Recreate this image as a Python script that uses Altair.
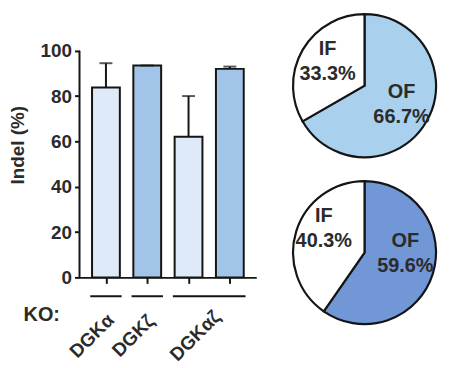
import altair as alt
import pandas as pd

# ---- data ----
bar_groups = ["DGKα", "DGKζ", "DGKαζ", "DGKαζ"]
bar_locus = ["α", "ζ", "α", "ζ"]
bar_mean = [83.8, 93.5, 62.0, 92.0]
bar_err = [10.7, 0.0, 18.0, 1.0]

group_names = ["DGKα", "DGKζ", "DGKαζ"]
y_ticks = [0, 20, 40, 60, 80, 100]

pie1_cat = ["OF", "IF"]
pie1_val = [66.7, 33.3]
pie2_cat = ["OF", "IF"]
pie2_val = [59.6, 40.3]

# ---- styling ----
FONT = "Liberation Sans"
TXT = "#2b2b2b"
LINE = "#151515"
W, H = 178, 267
LIGHT, DARK = "#deeaf7", "#a1c4e8"
PIE1_OF, PIE2_OF = "#a9d1ee", "#7197d6"

pos = list(range(1, len(bar_mean) + 1))
bars_df = pd.DataFrame({
    "pos": pos,
    "group": bar_groups,
    "locus": bar_locus,
    "mean": bar_mean,
    "top": [m + e for m, e in zip(bar_mean, bar_err)],
})

grp_rows = []
for g in group_names:
    members = [p for p, gg in zip(pos, bar_groups) if gg == g]
    grp_rows.append({"group": g, "start": min(members) - 0.38,
                     "end": max(members) + 0.38,
                     "center": sum(members) / len(members)})
grp_df = pd.DataFrame(grp_rows)

xscale = alt.Scale(domain=[0.48, 4.52], nice=False, zero=False)
yscale = alt.Scale(domain=[0, 117], nice=False)

x_enc = alt.X("pos:Q", scale=xscale,
              axis=alt.Axis(values=pos, labels=False, ticks=True, tickSize=6,
                            tickWidth=2, tickColor=LINE, domainWidth=2,
                            domainColor=LINE, grid=False, title=None))
y_enc = alt.Y("mean:Q", scale=yscale,
              axis=alt.Axis(values=y_ticks, domain=False, grid=False,
                            tickSize=5, tickWidth=2, tickColor=LINE,
                            labelFont=FONT, labelFontSize=19,
                            labelFontWeight="bold", labelColor=TXT,
                            labelPadding=3,
                            title="Indel (%)", titleFont=FONT,
                            titleFontSize=19, titleFontWeight="bold",
                            titleColor=TXT, titlePadding=13))

base = alt.Chart(bars_df)
bars = base.mark_bar(size=28, stroke=LINE, strokeWidth=2).encode(
    x=x_enc, y=y_enc,
    color=alt.Color("locus:N", scale=alt.Scale(domain=["α", "ζ"], range=[LIGHT, DARK]),
                    legend=None))
err_rule = base.mark_rule(color=LINE, strokeWidth=2).encode(
    x=alt.X("pos:Q", scale=xscale), y=alt.Y("mean:Q", scale=yscale), y2="top:Q")
err_cap = base.mark_tick(color=LINE, size=13, thickness=2, orient="horizontal").encode(
    x=alt.X("pos:Q", scale=xscale), y=alt.Y("top:Q", scale=yscale))

y_domain = alt.Chart(pd.DataFrame({"a": [0]})).mark_rule(color=LINE, strokeWidth=2).encode(
    x=alt.value(0), y=alt.datum(0), y2=alt.datum(100))

grp_lines = alt.Chart(grp_df).mark_rule(color=LINE, strokeWidth=2).encode(
    x=alt.X("start:Q", scale=xscale), x2="end:Q", y=alt.value(H + 19))
grp_labels = alt.Chart(grp_df).mark_text(
    angle=315, align="center", baseline="middle", xOffset=-14,
    font=FONT, fontSize=19, fontWeight="bold", color=TXT).encode(
    x=alt.X("center:Q", scale=xscale), y=alt.value(H + 59), text="group:N")
ko = alt.Chart(pd.DataFrame({"t": ["KO:"]})).mark_text(
    align="center", baseline="middle", font=FONT, fontSize=20,
    fontWeight="bold", color=TXT).encode(
    x=alt.value(-38), y=alt.value(H + 38), text="t:N")

bar_chart = alt.layer(bars, err_rule, err_cap, y_domain, grp_lines, grp_labels, ko).properties(
    width=W, height=H)


def pie(cats, vals, of_color, label_dy):
    df = pd.DataFrame({"cat": cats, "val": vals, "ord": list(range(len(cats)))})
    df["label"] = [f"{c}\n{v:.1f}%" for c, v in zip(cats, vals)]
    b = alt.Chart(df).encode(theta=alt.Theta("val:Q", stack=True),
                             order=alt.Order("ord:Q"))
    arc = b.mark_arc(radius=72, stroke=LINE, strokeWidth=2.2).encode(
        color=alt.Color("cat:N", scale=alt.Scale(domain=["OF", "IF"],
                                                 range=[of_color, "#ffffff"]),
                        legend=None))
    txt = b.mark_text(radius=43, dy=label_dy, font=FONT, fontSize=20, fontWeight="bold",
                      color=TXT, lineBreak="\n", lineHeight=25).encode(text="label:N")
    return alt.layer(arc, txt).properties(width=148, height=148)


pies = alt.vconcat(pie(pie1_cat, pie1_val, PIE1_OF, -15),
                   pie(pie2_cat, pie2_val, PIE2_OF, -24),
                   spacing=14).resolve_scale(color="independent", theta="independent")

chart = alt.hconcat(bar_chart, pies, spacing=32).resolve_scale(
    color="independent").properties(padding=0).configure_view(stroke=None)

chart.save("out.html", embed_options={"renderer": "svg", "actions": False})
